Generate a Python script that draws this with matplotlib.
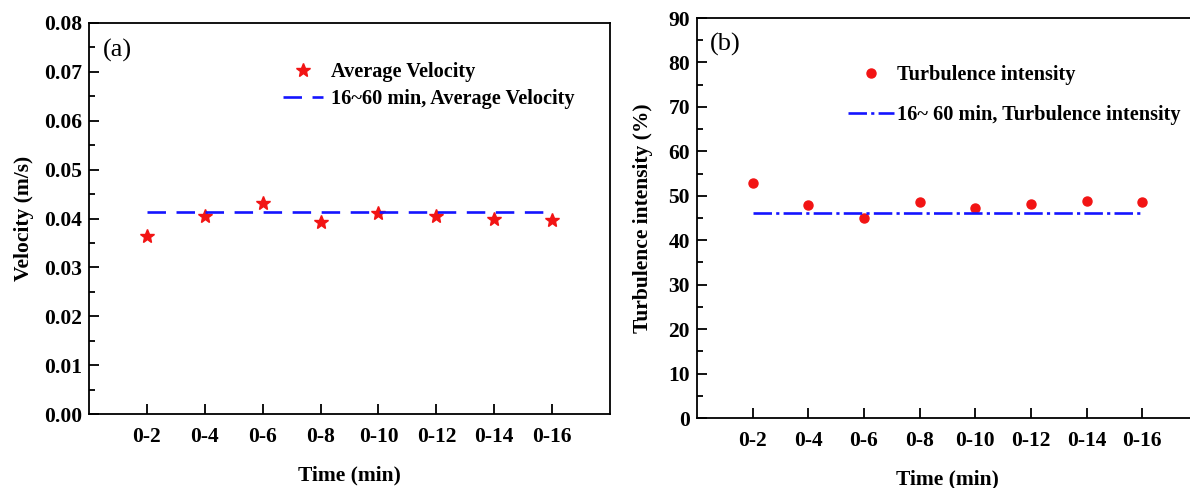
import matplotlib
matplotlib.use("Agg")
import matplotlib.pyplot as plt
from matplotlib.ticker import MultipleLocator

# ---- data ----
time_labels = ["0-2", "0-4", "0-6", "0-8", "0-10", "0-12", "0-14", "0-16"]
avg_velocity = [0.0365, 0.0405, 0.0432, 0.0392, 0.0412, 0.0406, 0.0399, 0.0396]
velocity_ref = 0.0413          # 16~60 min average velocity
turb_intensity = [52.9, 48.0, 44.9, 48.7, 47.3, 48.1, 48.8, 48.6]
turb_ref = 46.2                # 16~60 min turbulence intensity

plt.rcParams['font.family'] = ['Liberation Serif', 'DejaVu Serif']
plt.rcParams['font.weight'] = 'bold'

W, H = 1190, 488
fig = plt.figure(figsize=(W / 100, H / 100), dpi=100)

RED = '#f21414'
BLUE = '#1414ff'
x = list(range(1, len(time_labels) + 1))

def style(ax):
    for s in ax.spines.values():
        s.set_linewidth(1.3)
    ax.tick_params(axis='both', which='both', direction='in', labelsize=15.5, width=1.3)
    ax.tick_params(axis='y', which='major', length=7, pad=5)
    ax.tick_params(axis='y', which='minor', length=4)
    ax.tick_params(axis='x', which='major', length=7, pad=9)
    ax.set_xticks(x)
    ax.set_xticklabels(time_labels)
    ax.set_xlim(0, 9)
    for t in ax.get_xticklabels() + ax.get_yticklabels():
        t.set_fontweight('bold')

# ---- panel (a) ----
ax1 = fig.add_axes([89 / W, 1 - 414 / H, 521 / W, 391 / H])
ax1.plot(x, avg_velocity, linestyle='none', marker='*', ms=10.5, color=RED,
         label='Average Velocity')
ax1.plot(x, [velocity_ref] * len(x), linestyle=(0, (7, 4)), lw=1.9, color=BLUE,
         label='16~60 min, Average Velocity')
ax1.set_ylim(0, 0.08)
ax1.yaxis.set_major_locator(MultipleLocator(0.01))
ax1.yaxis.set_minor_locator(MultipleLocator(0.005))
ax1.yaxis.set_major_formatter(matplotlib.ticker.FormatStrFormatter('%.2f'))
style(ax1)
ax1.set_xlabel('Time (min)', fontsize=15.5, fontweight='bold', labelpad=14)
ax1.set_ylabel('Velocity (m/s)', fontsize=15.5, fontweight='bold', labelpad=7)
ax1.text(0.027, 0.93, '(a)', transform=ax1.transAxes, fontsize=19,
         fontweight='normal', ha='left', va='center')
ax1.legend(loc='upper left', bbox_to_anchor=(0.372, 0.9), frameon=False,
           borderpad=0, borderaxespad=0, handlelength=2.0, handletextpad=0.4,
           labelspacing=0.33, prop={'size': 14.6, 'weight': 'bold'})

# ---- panel (b) ----
ax2 = fig.add_axes([697 / W, 1 - 418 / H, 501 / W, 400 / H])
ax2.plot(x, turb_intensity, linestyle='none', marker='o', ms=6.5, color=RED,
         label='Turbulence intensity')
ax2.plot(x, [turb_ref] * len(x), linestyle=(0, (7, 1.6, 1.2, 1.6)), lw=1.9, color=BLUE,
         label='16~ 60 min, Turbulence intensity')
ax2.set_ylim(0, 90)
ax2.yaxis.set_major_locator(MultipleLocator(10))
ax2.yaxis.set_minor_locator(MultipleLocator(5))
style(ax2)
ax2.spines['right'].set_visible(False)
ax2.set_xlabel('Time (min)', fontsize=15.5, fontweight='bold', labelpad=14)
ax2.set_ylabel('Turbulence intensity (%)', fontsize=15.5, fontweight='bold', labelpad=11)
ax2.text(0.026, 0.935, '(b)', transform=ax2.transAxes, fontsize=19,
         fontweight='normal', ha='left', va='center')
ax2.legend(loc='upper left', bbox_to_anchor=(0.301, 0.882), frameon=False,
           borderpad=0, borderaxespad=0, handlelength=2.3, handletextpad=0.15,
           labelspacing=1.0, prop={'size': 14.6, 'weight': 'bold'})

fig.savefig('out.png', dpi=100)
